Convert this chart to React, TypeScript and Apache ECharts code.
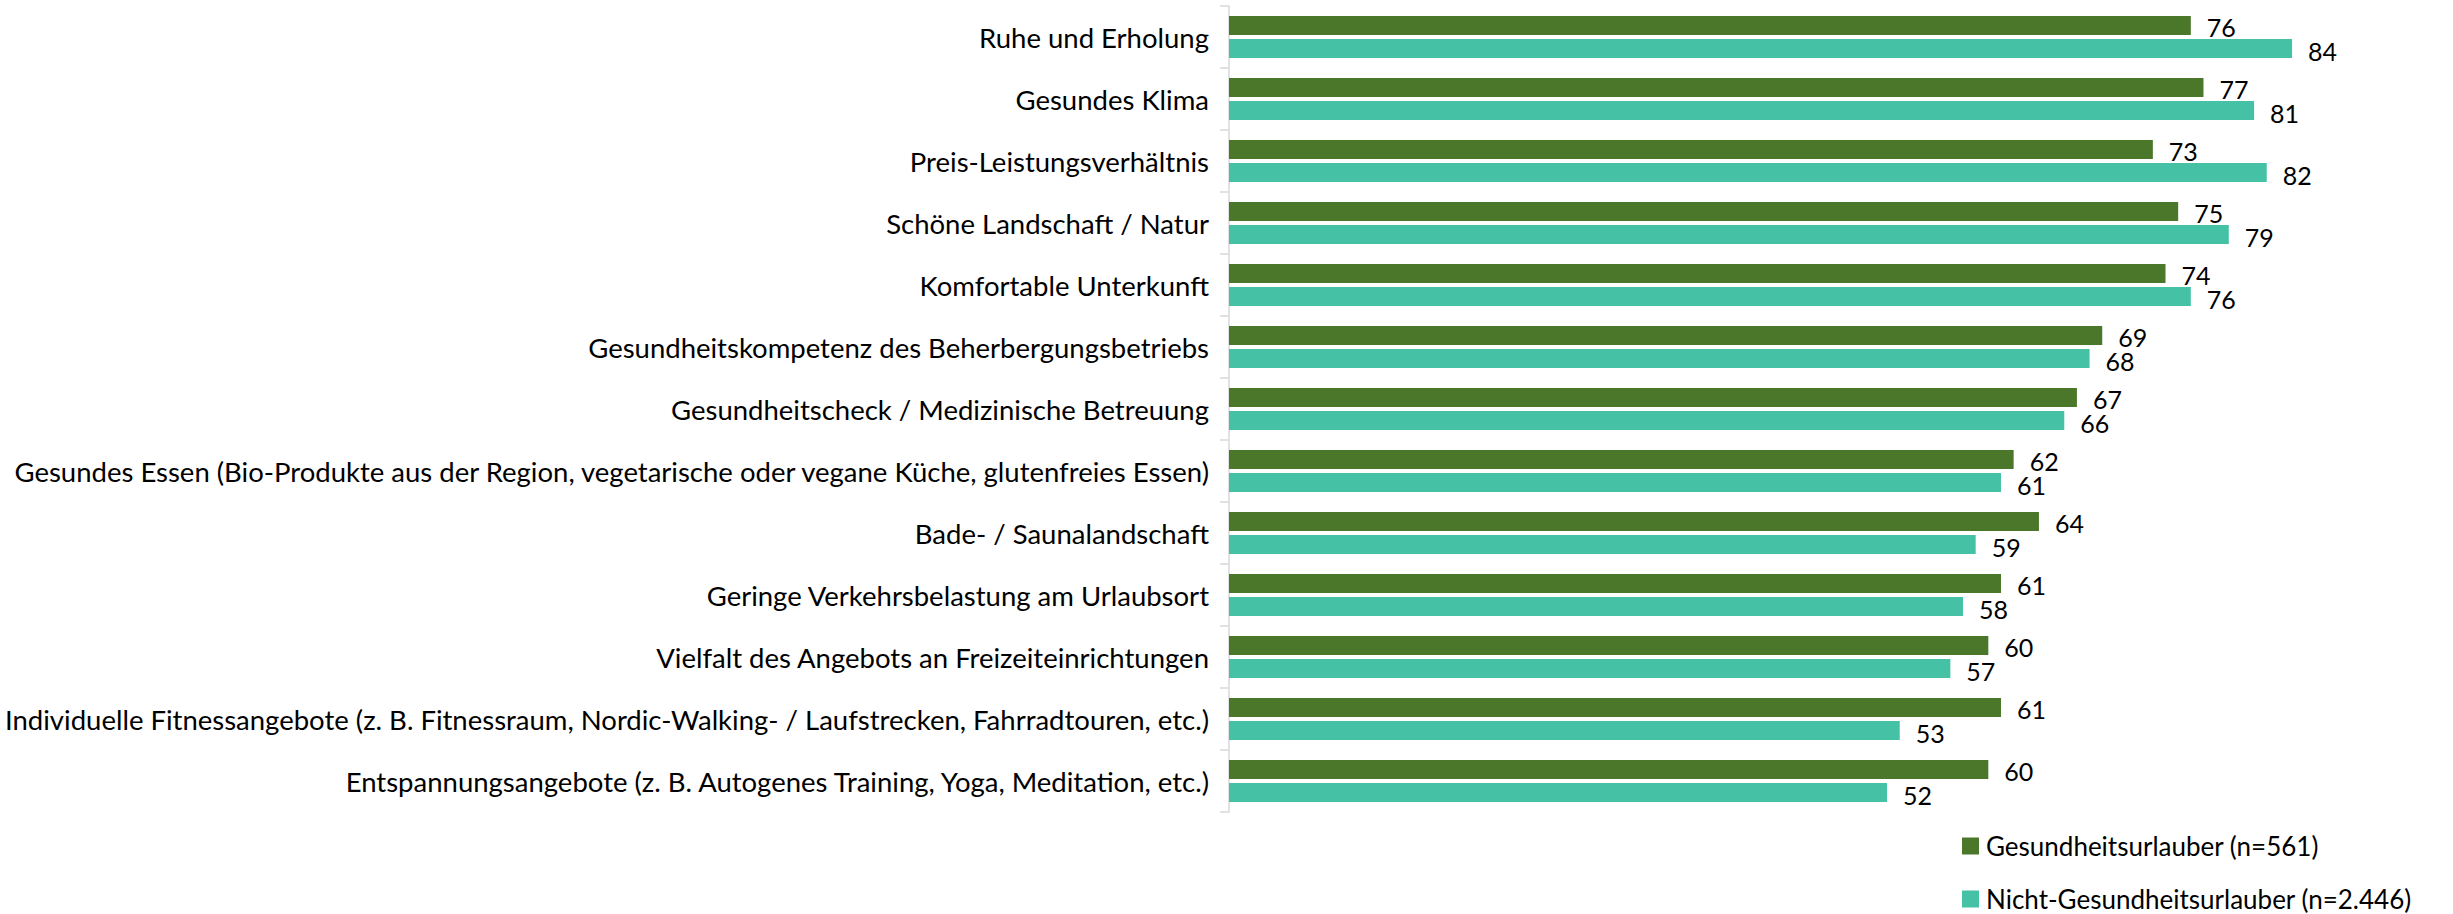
import React, { useEffect, useRef } from "react";
import * as echarts from "echarts";

const categories = [
  "Ruhe und Erholung",
  "Gesundes Klima",
  "Preis-Leistungsverhältnis",
  "Schöne Landschaft / Natur",
  "Komfortable Unterkunft",
  "Gesundheitskompetenz des Beherbergungsbetriebs",
  "Gesundheitscheck / Medizinische Betreuung",
  "Gesundes Essen (Bio-Produkte aus der Region, vegetarische oder vegane Küche, glutenfreies Essen)",
  "Bade- / Saunalandschaft",
  "Geringe Verkehrsbelastung am Urlaubsort",
  "Vielfalt des Angebots an Freizeiteinrichtungen",
  "Individuelle Fitnessangebote (z. B. Fitnessraum, Nordic-Walking- / Laufstrecken, Fahrradtouren, etc.)",
  "Entspannungsangebote (z. B. Autogenes Training, Yoga, Meditation, etc.)",
];

const gesundheitsurlauber = [76, 77, 73, 75, 74, 69, 67, 62, 64, 61, 60, 61, 60];
const nichtGesundheitsurlauber = [84, 81, 82, 79, 76, 68, 66, 61, 59, 58, 57, 53, 52];

const seriesNames = [
  "Gesundheitsurlauber (n=561)",
  "Nicht-Gesundheitsurlauber (n=2.446)",
];

const FONT = "Lato, 'Open Sans', sans-serif";

const valueLabel = (dy: number) => ({
  show: true,
  position: "right" as const,
  distance: 16,
  color: "#000000",
  fontFamily: FONT,
  fontSize: 25,
  lineHeight: 22,
  offset: [0, dy],
});

export default function App() {
  const ref = useRef<HTMLDivElement>(null);

  useEffect(() => {
    if (!ref.current) return;
    const chart = echarts.init(ref.current, null, { renderer: "svg" });

    chart.setOption({
      animation: false,
      backgroundColor: "#ffffff",
      textStyle: { fontFamily: FONT },
      grid: {
        left: 1229,
        top: 6,
        width: 1139,
        height: 806,
        containLabel: false,
        outerBoundsMode: "none",
      },
      legend: {
        orient: "vertical",
        left: 1962,
        top: 833,
        height: 120,
        padding: 0,
        itemWidth: 17,
        itemHeight: 17,
        itemGap: 27,
        icon: "rect",
        data: seriesNames,
        textStyle: {
          fontFamily: FONT,
          fontSize: 26,
          color: "#000000",
          lineHeight: 24,
          padding: [0, 0, 0, 2],
        },
      },
      xAxis: {
        type: "value",
        min: 0,
        max: 90,
        show: false,
        splitLine: { show: false },
      },
      yAxis: {
        type: "category",
        data: categories,
        inverse: true,
        axisLine: { show: true, lineStyle: { color: "#d9d9d9", width: 1.5 } },
        axisTick: {
          show: true,
          length: 9,
          lineStyle: { color: "#d9d9d9", width: 1.5 },
        },
        axisLabel: {
          margin: 20,
          color: "#000000",
          fontFamily: FONT,
          fontSize: 27.5,
        },
      },
      series: [
        {
          name: seriesNames[0],
          type: "bar",
          data: gesundheitsurlauber,
          barWidth: 19,
          barGap: "21%",
          itemStyle: { color: "#4a7729" },
          label: valueLabel(1),
        },
        {
          name: seriesNames[1],
          type: "bar",
          data: nichtGesundheitsurlauber,
          barWidth: 19,
          barGap: "21%",
          itemStyle: { color: "#45c2a5" },
          label: valueLabel(3),
        },
      ],
    });

    return () => chart.dispose();
  }, []);

  return (
    <div
      ref={ref}
      style={{ position: "fixed", left: 0, top: 0, width: 2453, height: 914 }}
    />
  );
}
